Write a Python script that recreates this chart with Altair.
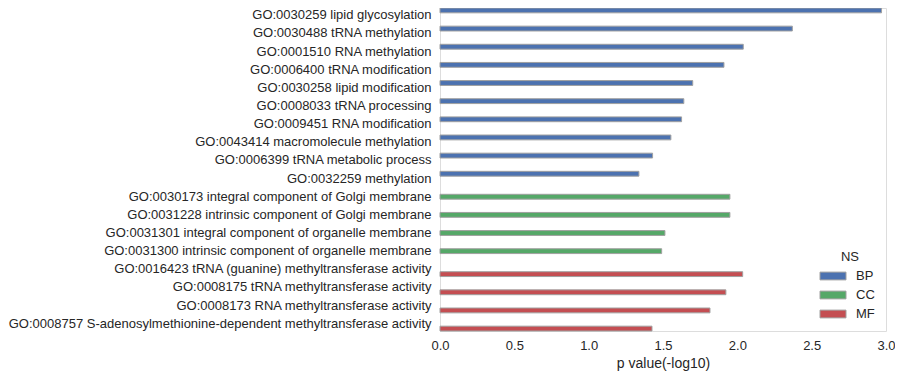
import altair as alt
import pandas as pd

terms = [
    "GO:0030259 lipid glycosylation",
    "GO:0030488 tRNA methylation",
    "GO:0001510 RNA methylation",
    "GO:0006400 tRNA modification",
    "GO:0030258 lipid modification",
    "GO:0008033 tRNA processing",
    "GO:0009451 RNA modification",
    "GO:0043414 macromolecule methylation",
    "GO:0006399 tRNA metabolic process",
    "GO:0032259 methylation",
    "GO:0030173 integral component of Golgi membrane",
    "GO:0031228 intrinsic component of Golgi membrane",
    "GO:0031301 integral component of organelle membrane",
    "GO:0031300 intrinsic component of organelle membrane",
    "GO:0016423 tRNA (guanine) methyltransferase activity",
    "GO:0008175 tRNA methyltransferase activity",
    "GO:0008173 RNA methyltransferase activity",
    "GO:0008757 S-adenosylmethionine-dependent methyltransferase activity",
]
ns = ["BP"] * 10 + ["CC"] * 4 + ["MF"] * 4
pvals = [2.97, 2.37, 2.04, 1.91, 1.70, 1.64, 1.625, 1.553, 1.43, 1.338,
         1.95, 1.95, 1.513, 1.491,
         2.036, 1.923, 1.816, 1.426]
ns_domain = ["BP", "CC", "MF"]
ns_colors = ["#4C72B0", "#55A868", "#C44E52"]
x_ticks = [0.0, 0.5, 1.0, 1.5, 2.0, 2.5, 3.0]

df = pd.DataFrame({"term": terms, "NS": ns, "p": pvals})

font = "Liberation Sans"
txt = "#262626"

chart = alt.Chart(df).mark_bar(stroke="#a0a0a0", strokeWidth=1).encode(
    x=alt.X("p:Q", title="p value(-log10)",
            scale=alt.Scale(domain=[0, 3], nice=False, zero=True),
            axis=alt.Axis(values=x_ticks, format=".1f", grid=False, domain=False,
                          ticks=False, labelPadding=8, labelFontSize=13, labelFlush=False,
                          titleFontSize=14, titleFontWeight="normal", titlePadding=4,
                          labelColor=txt, titleColor=txt, labelFont=font, titleFont=font)),
    y=alt.Y("term:N", sort=terms, title=None,
            scale=alt.Scale(paddingInner=0.2, paddingOuter=0),
            axis=alt.Axis(grid=False, domain=False, ticks=False, labelPadding=9,
                          labelFontSize=13, labelColor=txt, labelFont=font, labelLimit=0)),
    yOffset=alt.YOffset("NS:N", scale=alt.Scale(domain=ns_domain, paddingInner=0, paddingOuter=0)),
    color=alt.Color("NS:N", scale=alt.Scale(domain=ns_domain, range=ns_colors),
                    legend=alt.Legend(orient="none", legendX=386, legendY=243,
                                      symbolType="M-2,-0.6H2V0.6H-2Z", symbolSize=169,
                                      symbolStrokeColor="#a0a0a0", symbolStrokeWidth=1,
                                      labelOffset=16, rowPadding=5,
                                      titleAnchor="middle", titleFontWeight="normal",
                                      titleFontSize=13, labelFontSize=13,
                                      titleColor=txt, labelColor=txt,
                                      titleFont=font, labelFont=font)),
).properties(
    width=446, height=323,
    autosize=alt.AutoSizeParams(type="none"),
    padding={"left": 432, "top": 0, "right": 9, "bottom": 40},
).configure_view(stroke=None).configure(background="white")

chart.save("out.html", embed_options={"renderer": "svg", "actions": False})
